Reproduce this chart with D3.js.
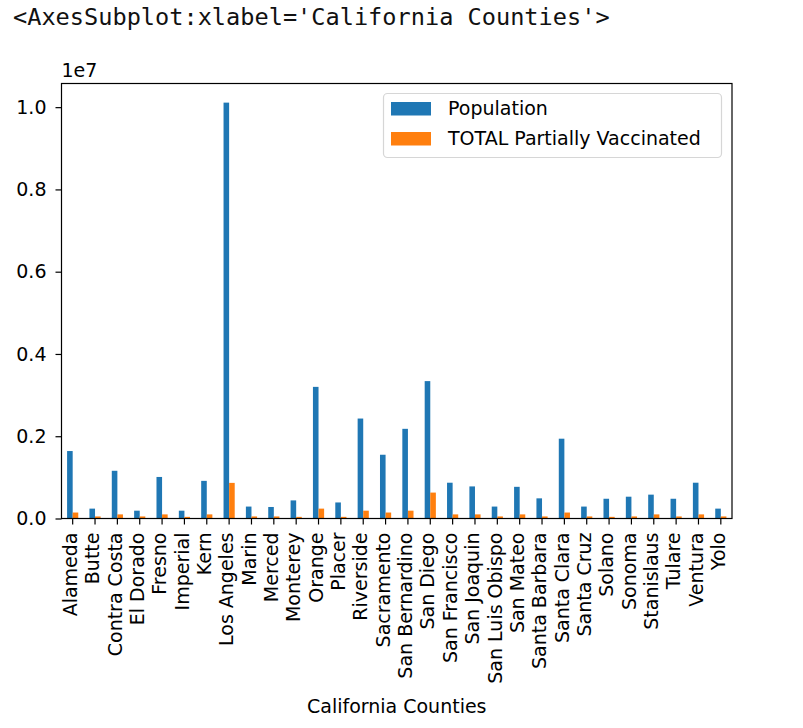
<!DOCTYPE html>
<meta charset="UTF-8">
<head>
<script src="https://d3js.org/d3.v7.min.js"></script>
</head>
<style>
body { margin: 0; background: #fff; }
text { font-family: "DejaVu Sans", sans-serif; fill: #000; }
.mono { font-family: "DejaVu Sans Mono", monospace; font-size: 23.6px; fill: #111; }
.tick-label { font-size: 19px; }
</style>
<body>
<div id="chart"></div>
<script>

// county names (x categories)
var counties = ["Alameda", "Butte", "Contra Costa", "El Dorado", "Fresno", "Imperial", "Kern",
  "Los Angeles", "Marin", "Merced", "Monterey", "Orange", "Placer", "Riverside", "Sacramento",
  "San Bernardino", "San Diego", "San Francisco", "San Joaquin", "San Luis Obispo", "San Mateo",
  "Santa Barbara", "Santa Clara", "Santa Cruz", "Solano", "Sonoma", "Stanislaus", "Tulare",
  "Ventura", "Yolo"];

// series values
var population = [1640000, 240000, 1160000, 190000, 1010000, 190000, 915000,
  10110000, 290000, 280000, 440000, 3200000, 390000, 2430000, 1550000,
  2180000, 3340000, 870000, 780000, 290000, 770000,
  490000, 1940000, 290000, 480000, 530000, 580000, 480000,
  870000, 240000];

var partiallyVaccinated = [145000, 50000, 100000, 50000, 100000, 40000, 100000,
  866000, 50000, 50000, 40000, 240000, 40000, 190000, 145000,
  190000, 630000, 100000, 100000, 50000, 100000,
  50000, 145000, 50000, 40000, 50000, 100000, 50000,
  100000, 50000];

var seriesNames = ["Population", "TOTAL Partially Vaccinated"];
var seriesColors = ["#1f77b4", "#ff7f0e"];

// y tick values (in units of 1e7)
var yTicks = [0.0, 0.2, 0.4, 0.6, 0.8, 1.0];

// Set the dimensions of the plot area
var W = 803, H = 728;
var plot = {left: 61.5, top: 83.5, right: 732, bottom: 518.5};

var svg = d3.select("#chart").append("svg")
    .attr("width", W)
    .attr("height", H);

// notebook output line above the figure
svg.append("text")
    .attr("class", "mono")
    .attr("x", 13)
    .attr("y", 25)
    .text("<AxesSubplot:xlabel='California Counties'>");

// scales
var x = d3.scaleBand()
    .domain(counties)
    .range([plot.left, plot.right]);

var yMax = d3.max(population) * 1.046;
var y = d3.scaleLinear()
    .domain([0, yMax])
    .range([plot.bottom, plot.top]);

var barW = x.bandwidth() * 0.25;

// bars
var series = [population, partiallyVaccinated];
series.forEach(function(vals, s) {
  svg.append("g")
    .selectAll("rect")
    .data(vals)
    .join("rect")
      .attr("x", function(d, i) { return x(counties[i]) + x.bandwidth() / 2 - barW + s * barW; })
      .attr("y", function(d) { return y(d); })
      .attr("width", barW)
      .attr("height", function(d) { return y(0) - y(d); })
      .attr("fill", seriesColors[s]);
});

// y axis
var yAxis = d3.axisLeft(y)
    .tickValues(yTicks.map(function(t) { return t * 1e7; }))
    .tickFormat(function(d) { return d3.format(".1f")(d / 1e7); })
    .tickSize(6)
    .tickPadding(9);

var gy = svg.append("g")
    .attr("transform", "translate(" + plot.left + ",0)")
    .call(yAxis);
gy.select(".domain").remove();
gy.selectAll(".tick line").attr("stroke", "#000").attr("stroke-width", 1.2);
gy.selectAll(".tick text").attr("class", "tick-label").attr("fill", "#000")
    .style("font-size", "19px").style("font-family", "DejaVu Sans");

// x axis
var xAxis = d3.axisBottom(x)
    .tickSize(6)
    .tickPadding(0);

var gx = svg.append("g")
    .attr("transform", "translate(0," + plot.bottom + ")")
    .call(xAxis);
gx.select(".domain").remove();
gx.selectAll(".tick line").attr("stroke", "#000").attr("stroke-width", 1.2);
gx.selectAll(".tick text")
    .attr("transform", "translate(0,14) rotate(-90)")
    .attr("text-anchor", "end")
    .attr("x", 0)
    .attr("y", 0)
    .attr("dy", "0.22em")
    .attr("fill", "#000")
    .style("font-size", "19px")
    .style("font-family", "DejaVu Sans");

// frame
svg.append("rect")
    .attr("x", plot.left)
    .attr("y", plot.top)
    .attr("width", plot.right - plot.left)
    .attr("height", plot.bottom - plot.top)
    .attr("fill", "none")
    .attr("stroke", "#000")
    .attr("stroke-width", 1.2);

// offset label
svg.append("text")
    .attr("x", plot.left)
    .attr("y", 77)
    .style("font-size", "19px")
    .text("1e7");

// x label
svg.append("text")
    .attr("x", (plot.left + plot.right) / 2)
    .attr("y", 713)
    .attr("text-anchor", "middle")
    .style("font-size", "19px")
    .text("California Counties");

// legend
var legend = svg.append("g");
legend.append("rect")
    .attr("x", 383.5)
    .attr("y", 93.5)
    .attr("width", 338)
    .attr("height", 64)
    .attr("rx", 4)
    .attr("fill", "#fff")
    .attr("fill-opacity", 0.8)
    .attr("stroke", "#d6d6d6")
    .attr("stroke-width", 1.2);

var item = legend.selectAll("g.item")
    .data(seriesNames)
    .join("g")
      .attr("class", "item")
      .attr("transform", function(d, i) { return "translate(391," + (102 + i * 30) + ")"; });

item.append("rect")
    .attr("width", 40)
    .attr("height", 13.5)
    .attr("fill", function(d, i) { return seriesColors[i]; });

item.append("text")
    .attr("x", 57)
    .attr("y", 6.75)
    .attr("dy", "0.35em")
    .style("font-size", "19px")
    .text(function(d) { return d; });

</script>
</body>
